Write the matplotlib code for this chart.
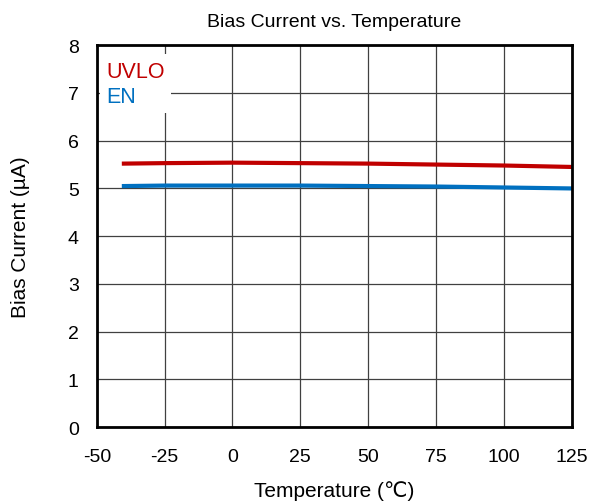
import numpy as np
import matplotlib.pyplot as plt

plt.rcParams['font.family'] = ['Liberation Sans', 'DejaVu Sans']
plt.rcParams['axes.unicode_minus'] = False

# data
temp = [-40, -25, 0, 25, 50, 75, 100, 125]
uvlo = [5.52, 5.53, 5.54, 5.53, 5.52, 5.50, 5.48, 5.45]
en = [5.05, 5.06, 5.06, 5.06, 5.05, 5.04, 5.02, 5.00]

x_ticks = [-50, -25, 0, 25, 50, 75, 100, 125]
y_ticks = [0, 1, 2, 3, 4, 5, 6, 7, 8]

fig = plt.figure(figsize=(5.9, 5.02), dpi=100)
ax = fig.add_axes([0.164, 0.147, 0.805, 0.761])

ax.plot(temp, uvlo, color='#c00000', lw=3, label='UVLO')
ax.plot(temp, en, color='#0070c0', lw=3, label='EN')

ax.set_xlim(-50, 125)
ax.set_ylim(0, 8)
ax.set_xticks(x_ticks)
ax.set_yticks(y_ticks)
ax.tick_params(length=0, labelsize=14)
ax.tick_params(axis='x', pad=15)
ax.tick_params(axis='y', pad=13)
ax.grid(True, color='#404040', lw=0.9)
for s in ax.spines.values():
    s.set_linewidth(2)
    s.set_color('black')

ax.set_title('Bias Current vs. Temperature', fontsize=14, pad=14)
ax.set_xlabel('Temperature (\u2103)', fontsize=15, labelpad=11)
ax.set_ylabel('Bias Current (\u00b5A)', fontsize=15, labelpad=27)

leg = ax.legend(loc='upper left', bbox_to_anchor=(0.0, 0.985),
                handlelength=0, handletextpad=0,
                labelcolor='linecolor', fontsize=15.5, frameon=True,
                fancybox=False, borderaxespad=0.15, borderpad=0.3,
                labelspacing=0.2)
leg.get_frame().set_facecolor('white')
leg.get_frame().set_edgecolor('none')
leg.get_frame().set_alpha(1)
for h in leg.legend_handles:
    h.set_visible(False)

fig.savefig('out.png', dpi=100)
